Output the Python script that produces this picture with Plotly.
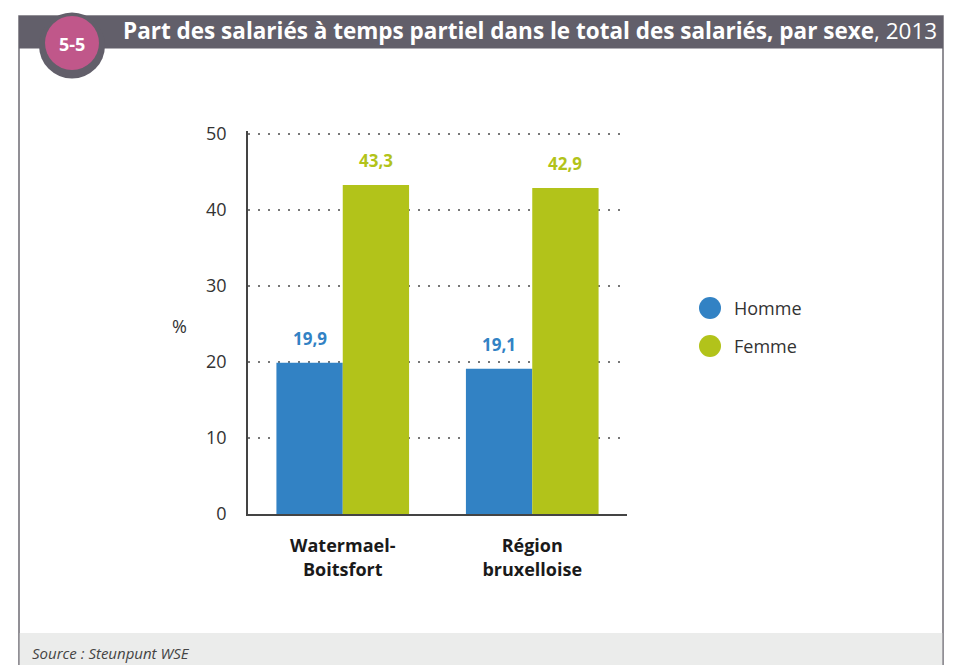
import plotly.graph_objects as go

# ---- data ----
categories = ["Watermael-Boitsfort", "Région bruxelloise"]
category_labels = ["<b>Watermael-<br>Boitsfort</b>", "<b>Région<br>bruxelloise</b>"]
series_names = ["Homme", "Femme"]
homme = [19.9, 19.1]
femme = [43.3, 42.9]
y_ticks = [0, 10, 20, 30, 40, 50]

# ---- style ----
W, H = 963, 665
BLUE = "#3282c4"
GREEN = "#b2c31a"
HEADER = "#625f6a"
PINK = "#c0578a"
FONT = "Open Sans"


def px(x):
    return x / W


def py(y):
    return 1 - y / H


fig = go.Figure()
fig.add_trace(go.Bar(x=categories, y=homme, name=series_names[0], marker_color=BLUE,
                     marker_line_width=0, showlegend=False, hoverinfo="x+y"))
fig.add_trace(go.Bar(x=categories, y=femme, name=series_names[1], marker_color=GREEN,
                     marker_line_width=0, showlegend=False, hoverinfo="x+y"))

bargap = 0.3
half = (1 - bargap) / 4
annotations = []
for vals, col, off in ((homme, BLUE, -half), (femme, GREEN, half)):
    for i, v in enumerate(vals):
        annotations.append(dict(
            x=i + off, y=v, xref="x", yref="y", text="<b>%s</b>" % f"{v:.1f}".replace(".", ","),
            showarrow=False, xanchor="center", yanchor="bottom", yshift=11,
            font=dict(family=FONT, size=17, color=col)))

# y-axis unit
annotations.append(dict(x=px(179), y=py(326), xref="paper", yref="paper", text="%",
                        xanchor="center", yanchor="middle",
                        showarrow=False, font=dict(family=FONT, size=18, color="#333333")))

# legend (manual)
shapes = []
leg_y = [308, 346]
for name, col, ly in zip(series_names, [BLUE, GREEN], leg_y):
    r = 11
    shapes.append(dict(type="circle", xref="paper", yref="paper",
                       x0=px(710 - r), x1=px(710 + r), y0=py(ly + r), y1=py(ly - r),
                       fillcolor=col, line_width=0))
    annotations.append(dict(x=px(732), y=py(ly), xref="paper", yref="paper", text=name,
                            xanchor="left", yanchor="middle", showarrow=False,
                            font=dict(family=FONT, size=18, color="#333333")))

# frame
shapes.insert(0, dict(type="rect", xref="paper", yref="paper", x0=px(19), x1=px(943),
                      y0=py(666), y1=py(16), line=dict(color="#6d6b73", width=1.5),
                      fillcolor="rgba(0,0,0,0)", layer="below"))
# footer band
shapes.append(dict(type="rect", xref="paper", yref="paper", x0=px(19.75), x1=px(942.25),
                   y0=py(666), y1=py(633), line_width=0, fillcolor="#ebeceb", layer="below"))
# header bar
shapes.append(dict(type="rect", xref="paper", yref="paper", x0=px(19), x1=px(943),
                   y0=py(48.5), y1=py(16), line_width=0, fillcolor=HEADER))
# badge
R1, R2 = 33, 27
cx, cy = 72, 44
shapes.append(dict(type="circle", xref="paper", yref="paper", x0=px(cx - R1), x1=px(cx + R1),
                   y0=py(cy + 1.5 + R1), y1=py(cy + 1.5 - R1), fillcolor=HEADER, line_width=0))
shapes.append(dict(type="circle", xref="paper", yref="paper", x0=px(cx - R2), x1=px(cx + R2),
                   y0=py(cy - 1 + R2), y1=py(cy - 1 - R2), fillcolor=PINK, line_width=0))
annotations.append(dict(x=px(cx), y=py(cy), xref="paper", yref="paper", text="<b>5-5</b>",
                        xanchor="center", yanchor="middle",
                        showarrow=False, font=dict(family=FONT, size=18, color="white")))
annotations.append(dict(x=px(121), y=py(31), xref="paper", yref="paper", xanchor="left",
                        yanchor="middle",
                        text="<b>Part des salariés à temps partiel dans le total des salariés, par sexe</b>, 2013",
                        showarrow=False, font=dict(family=FONT, size=22.5, color="white")))
annotations.append(dict(x=px(30), y=py(653), xref="paper", yref="paper", xanchor="left",
                        yanchor="middle", text="<i>Source : Steunpunt WSE</i>",
                        showarrow=False, font=dict(family=FONT, size=15, color="#444444")))

ymax = 50.4
fig.update_layout(
    width=W, height=H, autosize=False,
    margin=dict(l=0, r=0, t=0, b=0),
    paper_bgcolor="white", plot_bgcolor="white",
    barmode="group", bargap=bargap, bargroupgap=0,
    font=dict(family=FONT, color="#333333"),
    showlegend=False,
    shapes=shapes, annotations=annotations,
    xaxis=dict(domain=[px(248), px(627)], range=[-0.5, 1.5], tickmode="array",
               tickvals=categories, ticktext=category_labels, showline=True,
               linecolor="#444444", linewidth=1.5, ticks="", showgrid=False,
               tickfont=dict(family=FONT, size=18, color="#1a1a1a"), ticklabelstandoff=15,
               automargin=False, fixedrange=True),
    yaxis=dict(domain=[py(514), py(514 - ymax * 7.6)], range=[0, ymax], tickmode="array",
               tickvals=y_ticks,
               showline=True, linecolor="#444444", linewidth=1.5, zeroline=False,
               showgrid=True, gridcolor="#777777", gridwidth=1.5, griddash="1.5px,8.5px",
               ticks="", tickfont=dict(family=FONT, size=18, color="#333333"),
               ticklabelstandoff=16, automargin=False, fixedrange=True),
)

fig.write_html("out.html", config={"displayModeBar": False},
               post_script="document.body.style.margin='0';")
